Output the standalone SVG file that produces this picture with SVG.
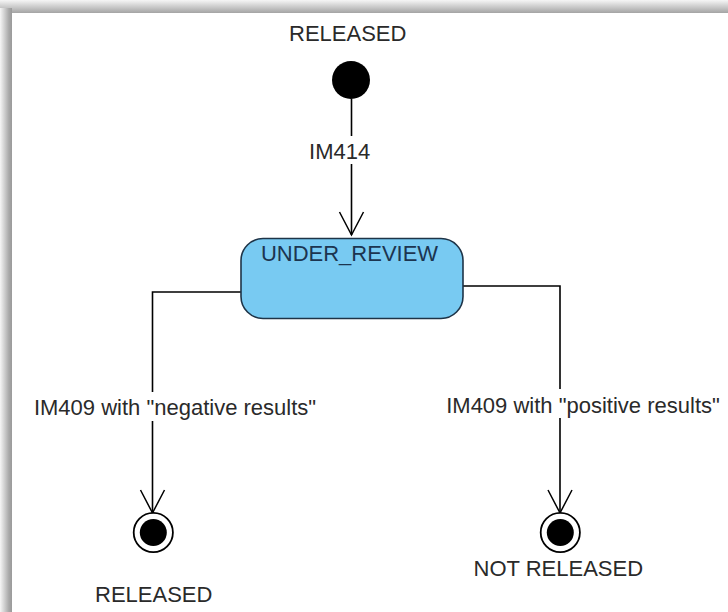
<svg xmlns="http://www.w3.org/2000/svg" width="728" height="612" viewBox="0 0 728 612">
  <defs>
    <linearGradient id="gTop" x1="0" y1="0" x2="0" y2="1">
      <stop offset="0" stop-color="#f6f6f6"/>
      <stop offset="1" stop-color="#a4a4a4"/>
    </linearGradient>
    <linearGradient id="gLeft" x1="0" y1="0" x2="1" y2="0">
      <stop offset="0" stop-color="#f6f6f6"/>
      <stop offset="0.75" stop-color="#a8a8a8"/>
      <stop offset="1" stop-color="#9a9a9a"/>
    </linearGradient>
    <marker id="open" markerWidth="30" markerHeight="30" refX="24" refY="13" orient="auto" markerUnits="userSpaceOnUse">
      <path d="M1,1 L24,13 L1,25" fill="none" stroke="#000" stroke-width="1.5"/>
    </marker>
    <style>
      text { font-family: "Liberation Sans", Arial, sans-serif; font-size: 22px; fill: #2a2a2a; text-anchor: middle; }
      .conn { fill: none; stroke: #000; stroke-width: 1.6; }
      .lblbg { fill: #fff; }
    </style>
  </defs>
  <rect x="0" y="0" width="728" height="612" fill="#fff"/>
  <rect x="0" y="0" width="728" height="13" fill="url(#gTop)"/>
  <rect x="0" y="8" width="12" height="604" fill="url(#gLeft)"/>

  <g id="connectors">
    <path class="conn" d="M351.5,99 L351.5,235" marker-end="url(#open)"/>
    <path class="conn" d="M241,292 L152.5,292 L152.5,513" marker-end="url(#open)"/>
    <path class="conn" d="M463,286 L560,286 L560,513" marker-end="url(#open)"/>
    <g id="lbl-im414">
      <rect class="lblbg" x="308" y="136" width="63" height="28"/>
      <text x="339.7" y="159">IM414</text>
    </g>
    <g id="lbl-negative">
      <rect class="lblbg" x="33" y="392" width="285" height="29"/>
      <text x="175" y="415">IM409 with "negative results"</text>
    </g>
    <g id="lbl-positive">
      <rect class="lblbg" x="444" y="389" width="280" height="29"/>
      <text x="583" y="413">IM409 with "positive results"</text>
    </g>
  </g>

  <g id="start">
    <circle cx="351" cy="80" r="19" fill="#000"/>
    <text x="347.7" y="40.7">RELEASED</text>
  </g>

  <g id="under-review">
    <rect x="241" y="238.5" width="222" height="80" rx="22" ry="22" fill="#78caf2" stroke="#1e3448" stroke-width="1.6"/>
    <text x="349.5" y="260.7" style="fill:#1c3550">UNDER_REVIEW</text>
  </g>

  <g id="final-released">
    <circle cx="153.3" cy="532.5" r="19.6" fill="#fff" stroke="#000" stroke-width="1.8"/>
    <circle cx="153.3" cy="532.5" r="13.5" fill="#000"/>
    <text x="153.7" y="601.7">RELEASED</text>
  </g>

  <g id="final-not-released">
    <circle cx="560.3" cy="532.5" r="19.6" fill="#fff" stroke="#000" stroke-width="1.8"/>
    <circle cx="560.3" cy="532.5" r="13.5" fill="#000"/>
    <text x="558.3" y="576">NOT RELEASED</text>
  </g>
</svg>
